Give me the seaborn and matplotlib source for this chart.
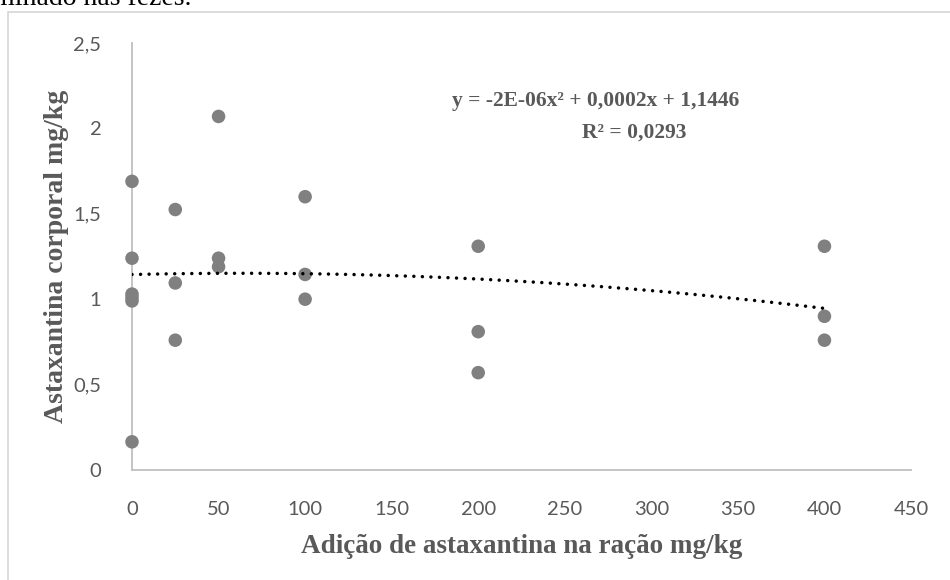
import numpy as np
import pandas as pd
import matplotlib
matplotlib.use("Agg")
import matplotlib.pyplot as plt
import matplotlib.patches as mpatches
import seaborn as sns

# ---- data ----
dose = [0, 0, 0, 0, 0, 0, 25, 25, 25, 50, 50, 50, 100, 100, 100, 200, 200, 200, 400, 400, 400]
astax = [1.69, 1.24, 1.03, 1.01, 0.99, 0.165, 1.525, 1.095, 0.76, 2.07, 1.24, 1.19,
         1.60, 1.145, 1.00, 1.31, 0.81, 0.57, 1.31, 0.90, 0.76]
x_ticks = [0, 50, 100, 150, 200, 250, 300, 350, 400, 450]
y_ticks = [0, 0.5, 1, 1.5, 2, 2.5]
y_tick_labels = ["0", "0,5", "1", "1,5", "2", "2,5"]
equation_text = "y = -2E-06x² + 0,0002x + 1,1446"
r2_text = "R² = 0,0293"
x_label = "Adição de astaxantina na ração mg/kg"
y_label = "Astaxantina corporal mg/kg"
header_text = "eliminado nas fezes."

df = pd.DataFrame({"dose": dose, "astax": astax})

sns.set_theme(style="white")
plt.rcParams["font.family"] = ["Lato", "DejaVu Sans"]

W, H = 950, 580
fig = plt.figure(figsize=(W / 100, H / 100), dpi=100)
ax = fig.add_axes([132 / W, (H - 470) / H, (911 - 132) / W, (470 - 43) / H])

sns.scatterplot(data=df, x="dose", y="astax", ax=ax, color="#808080", s=95,
                edgecolor="none", zorder=3, clip_on=False)

# polynomial trendline (order 2) fitted to the data
coef = np.polyfit(df["dose"], df["astax"], 2)
xs = np.linspace(0, 400, 200)
sns.lineplot(x=xs, y=np.polyval(coef, xs), ax=ax, color="black", lw=2.5,
             linestyle=(0, (0.01, 2.45)), dash_capstyle="round", zorder=4)

ax.set_xlim(0, 450)
ax.set_ylim(0, 2.5)
ax.set_xticks(x_ticks)
ax.set_xticklabels([str(t) for t in x_ticks])
ax.set_yticks(y_ticks)
ax.set_yticklabels(y_tick_labels)
ax.tick_params(axis="both", length=0, labelsize=14.5, labelcolor="#595959")
ax.tick_params(axis="x", pad=22)
ax.tick_params(axis="y", pad=22)

for s in ["top", "right"]:
    ax.spines[s].set_visible(False)
for s in ["left", "bottom"]:
    ax.spines[s].set_color("#BFBFBF")
    ax.spines[s].set_linewidth(1.3)
ax.grid(False)

serif = ["Liberation Serif", "DejaVu Serif"]
ax.set_xlabel(x_label, fontsize=19.5, fontweight="bold", color="#595959",
              family=serif, labelpad=12)
ax.set_ylabel(y_label, fontsize=20, fontweight="bold", color="#595959",
              family=serif, labelpad=3)

fig.text(596 / W, 1 - 101 / H, equation_text, ha="center", va="center",
         fontsize=15.5, fontweight="bold", color="#595959", family=serif)
fig.text(634 / W, 1 - 133 / H, r2_text, ha="center", va="center",
         fontsize=15.5, fontweight="bold", color="#595959", family=serif)

# outer chart frame (extends past right/bottom edges as in the reference)
frame = mpatches.Rectangle((8 / W, -0.05), 1.1, 1 - 12 / H + 0.05,
                           transform=fig.transFigure, fill=False,
                           edgecolor="#D9D9D9", lw=1.3, clip_on=False)
fig.patches.append(frame)

# partially visible document text above the chart
fig.text(-35 / W, 1 - 5 / H, header_text, ha="left", va="baseline",
         fontsize=20, color="black", family=serif)

fig.savefig("out.png", dpi=100)
